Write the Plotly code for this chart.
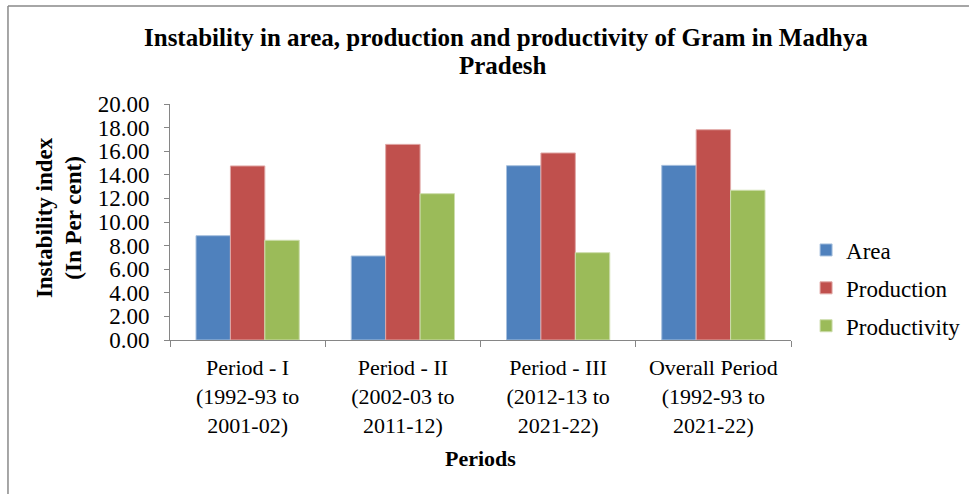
import plotly.graph_objects as go

periods = [
    "Period - I<br>(1992-93 to<br>2001-02)",
    "Period - II<br>(2002-03 to<br>2011-12)",
    "Period - III<br>(2012-13 to<br>2021-22)",
    "Overall Period<br>(1992-93 to<br>2021-22)",
]
area = [8.84, 7.12, 14.77, 14.80]
production = [14.75, 16.58, 15.85, 17.82]
productivity = [8.45, 12.40, 7.40, 12.69]

series_names = ["Area", "Production", "Productivity"]
colours = ["#4F81BD", "#C0504D", "#9BBB59"]
edges = ["#A7C0DE", "#E0A8A6", "#CDDDAC"]

serif = "Liberation Serif"

fig = go.Figure()
for name, vals, col, edge in zip(series_names, [area, production, productivity], colours, edges):
    fig.add_trace(go.Bar(
        x=periods, y=vals, name=name, legendgroup=name,
        marker=dict(color=col, line=dict(color=edge, width=1)),
    ))

# plot area runs from x=170..791, y=104..340 px
fig.update_layout(
    width=970, height=494,
    margin=dict(l=170, r=179, t=104, b=154, autoexpand=False),
    paper_bgcolor="white", plot_bgcolor="white",
    barmode="group", bargap=0.335, bargroupgap=0,
    font=dict(family=serif, size=22, color="black"),
    legend=dict(
        xref="container", yref="container",
        x=0.831, xanchor="left", y=0.417, yanchor="middle",
        font=dict(family=serif, size=23), tracegroupgap=5,
        itemwidth=30,
    ),
    showlegend=True,
)

fig.update_xaxes(
    showline=True, linecolor="#868686", linewidth=1,
    ticks="outside", tickson="boundaries", ticklen=6, tickcolor="#868686",
    showgrid=False,
    tickfont=dict(family=serif, size=22),
    ticklabelstandoff=8,
)
fig.update_yaxes(
    range=[0, 20], dtick=2, tickformat=".2f",
    showline=True, linecolor="#868686", linewidth=1,
    ticks="outside", ticklen=5, tickcolor="#868686",
    showgrid=False, zeroline=False,
    tickfont=dict(family=serif, size=23),
    ticklabelstandoff=10,
)

# title as two lines, spaced as in the reference
title_font = dict(family=serif, size=25, color="black")
fig.add_annotation(
    text="<b>Instability in area, production and productivity of Gram in Madhya</b>",
    xref="paper", yref="paper", x=0.541, y=1.28,
    xanchor="center", yanchor="middle", showarrow=False, font=title_font,
)
fig.add_annotation(
    text="<b>Pradesh</b>",
    xref="paper", yref="paper", x=0.537, y=1.165,
    xanchor="center", yanchor="middle", showarrow=False, font=title_font,
)

fig.add_annotation(
    text="<b>Instability index<br>(In Per cent)</b>",
    xref="paper", yref="paper", x=-0.179, y=0.52,
    xanchor="center", yanchor="middle",
    textangle=-90, showarrow=False,
    font=dict(family=serif, size=23),
)
fig.add_annotation(
    text="<b>Periods</b>",
    xref="paper", yref="paper", x=0.5, y=-0.5,
    xanchor="center", yanchor="middle", showarrow=False,
    font=dict(family=serif, size=22),
)

# outer chart border (left and top edges visible in the reference)
fig.add_shape(type="line", xref="paper", yref="paper",
              x0=-0.2609, x1=-0.2609, y0=1.415, y1=-0.66,
              line=dict(color="#898989", width=1.5))
fig.add_shape(type="line", xref="paper", yref="paper",
              x0=-0.2609, x1=1.2866, y0=1.415, y1=1.415,
              line=dict(color="#898989", width=1.5))

fig.write_html("out.html", config={"displayModeBar": False},
               post_script="document.body.style.margin='0';")
